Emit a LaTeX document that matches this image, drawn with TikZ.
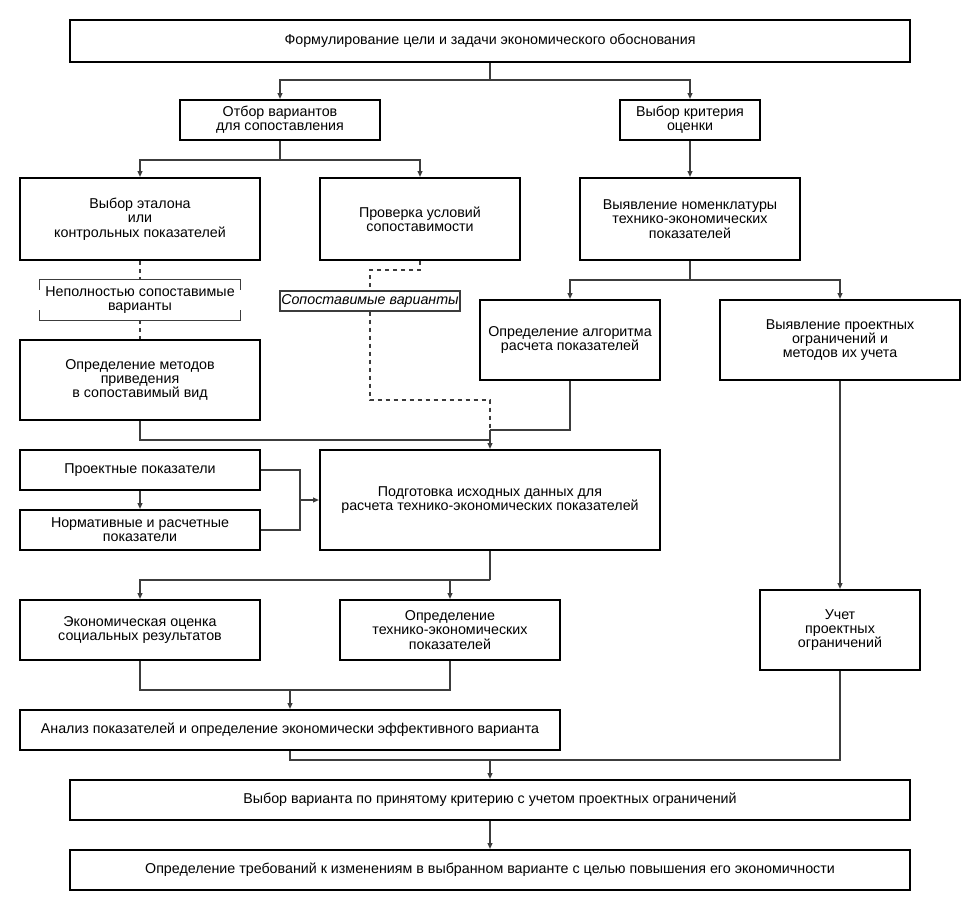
\documentclass[tikz,border=0pt]{standalone}
\usepackage{fontspec}
\setmainfont{Liberation Sans}
\usetikzlibrary{arrows.meta}
\definecolor{lnc}{RGB}{60,60,60}
\begin{document}
\begin{tikzpicture}[x=0.75pt,y=-0.75pt,
  box/.style={draw=black, line width=1.5pt, align=center, inner sep=2pt,
    font=\fontsize{10.7}{10.7}\selectfont},
  conn/.style={draw=lnc, line width=1.1pt},
  arr/.style={conn, -{Triangle[length=4.5pt,width=3.6pt]}},
  dsh/.style={draw=lnc, line width=1.1pt, dash pattern=on 3pt off 3pt},
  brk/.style={draw=lnc, line width=1.1pt}]
\useasboundingbox (0,0) rectangle (980,910);
\fill[white] (0,0) rectangle (980,910);

\node[box, minimum width=630pt, minimum height=31.5pt] (top) at (490,41) {Формулирование цели и задачи экономического обоснования};
\node[box, minimum width=150pt, minimum height=30pt] (otbor) at (280,120) {Отбор вариантов\\для сопоставления};
\node[box, minimum width=105pt, minimum height=30pt] (kriter) at (690,120) {Выбор критерия\\оценки};
\node[box, minimum width=180pt, minimum height=61.5pt] (etalon) at (140,219) {Выбор эталона\\или\\контрольных показателей};
\node[box, minimum width=150pt, minimum height=61.5pt] (prov) at (420,219) {Проверка условий\\сопоставимости};
\node[box, minimum width=165pt, minimum height=61.5pt] (nomen) at (690,219) {Выявление номенклатуры\\технико-экономических\\показателей};
\node[align=center, inner sep=0pt, minimum width=150pt, minimum height=30pt,
  font=\fontsize{10.7}{10.7}\selectfont] (nepoln) at (140,300) {Неполностью сопоставимые\\варианты};
\node[draw=lnc, line width=1.1pt, inner sep=1pt, minimum width=135pt, minimum height=15pt,
  font=\fontsize{10.7}{10.7}\selectfont\itshape] (sopost) at (370,301) {Сопоставимые варианты};
\node[box, minimum width=180pt, minimum height=60pt] (metod) at (140,380) {Определение методов\\приведения\\в сопоставимый вид};
\node[box, minimum width=135pt, minimum height=60pt] (algor) at (570,340) {Определение алгоритма\\расчета показателей};
\node[box, minimum width=180pt, minimum height=60pt] (ogran) at (840,340) {Выявление проектных\\ограничений и\\методов их учета};
\node[box, minimum width=180pt, minimum height=30pt] (proekt) at (140,470) {Проектные показатели};
\node[box, minimum width=180pt, minimum height=30pt] (norm) at (140,530) {Нормативные и расчетные\\показатели};
\node[box, minimum width=255pt, minimum height=75pt] (podg) at (490,500) {Подготовка исходных данных для\\расчета технико-экономических показателей};
\node[box, minimum width=180pt, minimum height=45pt] (ekon) at (140,630) {Экономическая оценка\\социальных результатов};
\node[box, minimum width=165pt, minimum height=45pt] (opred) at (450,630) {Определение\\технико-экономических\\показателей};
\node[box, minimum width=120pt, minimum height=60pt] (uchet) at (840,630) {Учет\\проектных\\ограничений};
\node[box, minimum width=405pt, minimum height=30pt] (analiz) at (290,730) {Анализ показателей и определение экономически эффективного варианта};
\node[box, minimum width=630pt, minimum height=30pt] (vybor) at (490,800) {Выбор варианта по принятому критерию с учетом проектных ограничений};
\node[box, minimum width=630pt, minimum height=30pt] (treb) at (490,870) {Определение требований к изменениям в выбранном варианте с целью повышения его экономичности};

% bracket around "Неполностью сопоставимые варианты"
\draw[brk] ([yshift=-7.5pt]nepoln.north west) -- (nepoln.north west) -- (nepoln.north east) -- ([yshift=-7.5pt]nepoln.north east);
\draw[brk] ([yshift=7.5pt]nepoln.south west) -- (nepoln.south west) -- (nepoln.south east) -- ([yshift=7.5pt]nepoln.south east);

% junction coordinates
\coordinate (j1) at (490,80);
\coordinate (j2) at (280,160);
\coordinate (j3) at (690,280);
\coordinate (d1) at (420,270);
\coordinate (d2) at (490,400);
\coordinate (j4) at (490,430);
\coordinate (j5) at (490,440);
\coordinate (j6) at (300,500);
\coordinate (j7) at (490,580);
\coordinate (j8) at (290,690);
\coordinate (j9) at (490,760);

\draw[conn] (top.south) -- (j1);
\draw[arr] (j1) -| (otbor.north);
\draw[arr] (j1) -| (kriter.north);
\draw[conn] (otbor.south) -- (j2);
\draw[arr] (j2) -| (etalon.north);
\draw[arr] (j2) -| (prov.north);
\draw[arr] (kriter.south) -- (nomen.north);
\draw[conn] (nomen.south) -- (j3);
\draw[arr] (j3) -| (algor.north);
\draw[arr] (j3) -| (ogran.north);

\draw[dsh] (etalon.south) -- (nepoln.north);
\draw[dsh] (nepoln.south) -- (metod.north);
\draw[dsh] (prov.south) -- (d1) -| (sopost.north);
\draw[dsh] (sopost.south) |- (d2) -- (j4);

\draw[conn] (metod.south) |- (j5);
\draw[conn] (algor.south) |- (j4);
\draw[arr] (j4) -- (podg.north);

\draw[arr] (proekt.south) -- (norm.north);
\draw[conn] (proekt.east) -| (j6);
\draw[conn] (norm.east) -| (j6);
\draw[arr] (j6) -- (podg.west);

\draw[conn] (podg.south) -- (j7);
\draw[arr] (j7) -| (ekon.north);
\draw[arr] (j7) -| (opred.north);
\draw[conn] (ekon.south) |- (j8);
\draw[conn] (opred.south) |- (j8);
\draw[arr] (j8) -- (analiz.north);

\draw[arr] (ogran.south) -- (uchet.north);
\draw[conn] (analiz.south) |- (j9);
\draw[conn] (uchet.south) |- (j9);
\draw[arr] (j9) -- (vybor.north);
\draw[arr] (vybor.south) -- (treb.north);
\end{tikzpicture}
\end{document}
